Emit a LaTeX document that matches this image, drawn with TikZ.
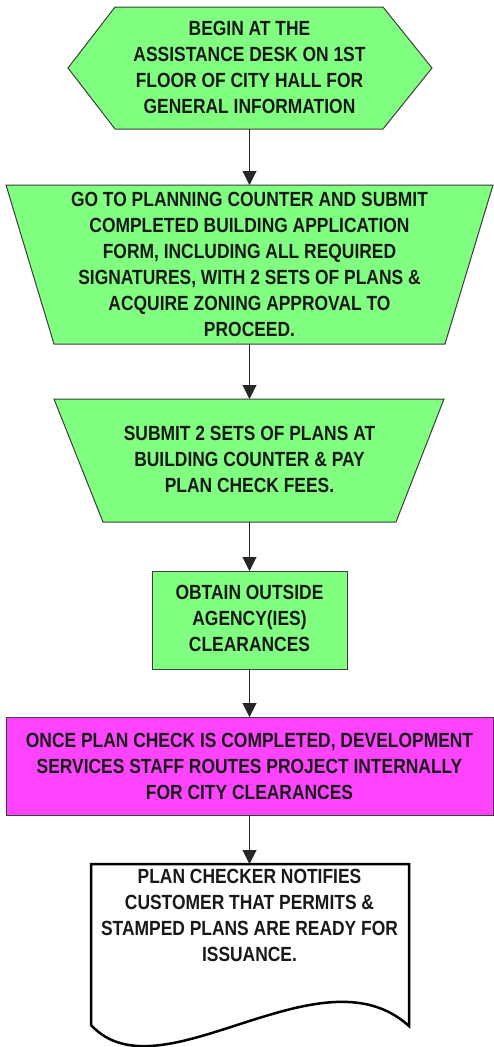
\documentclass[tikz,border=0pt]{standalone}
\usepackage{fontspec}
\setmainfont[FakeStretch=0.85]{Liberation Sans}
\usetikzlibrary{arrows.meta}
\definecolor{boxgreen}{RGB}{128,255,128}
\definecolor{boxmagenta}{RGB}{255,68,255}
\definecolor{edgegray}{RGB}{60,60,60}
\tikzset{
  shapeline/.style={draw=edgegray, line width=1pt},
  docline/.style={draw=black, line width=2.5pt, line join=miter},
  txt/.style={align=center, inner sep=0pt, text=black!90, font=\bfseries\fontsize{20.5}{26}\selectfont},
  flow/.style={draw=black!85, line width=1pt, -{Triangle[width=14pt,length=14pt]}}
}
\begin{document}
\begin{tikzpicture}[x=1pt,y=-1pt]
\useasboundingbox (0,0) rectangle (493,1047);
% hexagon
\path[shapeline, fill=boxgreen] (68,68) -- (115,7) -- (383,7) -- (432,68) -- (383,129) -- (115,129) -- cycle;
\node[txt] (n1) at (249.5,67) {BEGIN AT THE\\ASSISTANCE DESK ON 1ST\\FLOOR OF CITY HALL FOR\\GENERAL INFORMATION};
\coordinate (n1b) at (249.5,129);
% trapezoid 1
\path[shapeline, fill=boxgreen] (6,185) -- (493,185) -- (445,344) -- (54,344) -- cycle;
\node[txt] (n2) at (249.5,264) {GO TO PLANNING COUNTER AND SUBMIT\\COMPLETED BUILDING APPLICATION\\FORM, INCLUDING ALL REQUIRED\\SIGNATURES, WITH 2 SETS OF PLANS \&\\ACQUIRE ZONING APPROVAL TO\\PROCEED.};
\coordinate (n2t) at (249.5,185);
\coordinate (n2b) at (249.5,344);
% trapezoid 2
\path[shapeline, fill=boxgreen] (54,399) -- (444,399) -- (396,522) -- (103,522) -- cycle;
\node[txt] (n3) at (249.5,459) {SUBMIT 2 SETS OF PLANS AT\\BUILDING COUNTER \& PAY\\PLAN CHECK FEES.};
\coordinate (n3t) at (249.5,399);
\coordinate (n3b) at (249.5,522);
% rectangle
\path[shapeline, fill=boxgreen] (152,571) rectangle (347,669);
\node[txt] (n4) at (249.5,618.5) {OBTAIN OUTSIDE\\AGENCY(IES)\\CLEARANCES};
\coordinate (n4t) at (249.5,571);
\coordinate (n4b) at (249.5,669);
% magenta
\path[shapeline, fill=boxmagenta] (6,717) rectangle (493,815);
\node[txt] (n5) at (249.5,766) {ONCE PLAN CHECK IS COMPLETED, DEVELOPMENT\\SERVICES STAFF ROUTES PROJECT INTERNALLY\\FOR CITY CLEARANCES};
\coordinate (n5t) at (249.5,717);
\coordinate (n5b) at (249.5,815);
% document
\path[docline, fill=white] (91,864) -- (409,864) -- (409,1026) .. controls (320,945) and (160,1100) .. (91,1025) -- cycle;
\node[txt] (n6) at (249.5,915.5) {PLAN CHECKER NOTIFIES\\CUSTOMER THAT PERMITS \&\\STAMPED PLANS ARE READY FOR\\ISSUANCE.};
\coordinate (n6t) at (249.5,864);
% connectors
\draw[flow] (n1b) -- (n2t);
\draw[flow] (n2b) -- (n3t);
\draw[flow] (n3b) -- (n4t);
\draw[flow] (n4b) -- (n5t);
\draw[flow] (n5b) -- (n6t);
\end{tikzpicture}
\end{document}
